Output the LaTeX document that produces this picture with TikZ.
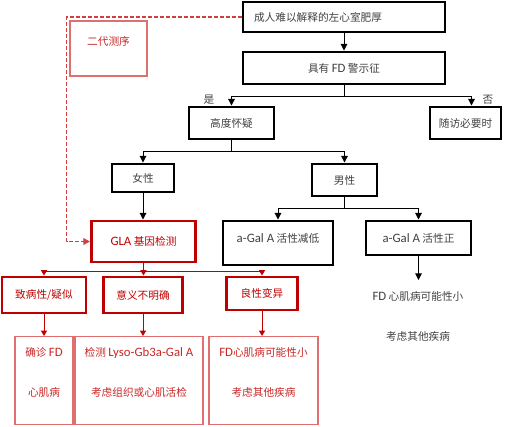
\documentclass[tikz,border=0pt]{standalone}
\usepackage{fontspec}
\setmainfont{Noto Sans CJK SC}
\newfontfamily\lat{Carlito}[Scale=1.2]
\usetikzlibrary{arrows.meta,positioning,calc}
\definecolor{fdred}{RGB}{192,0,0}
\definecolor{fdpink}{RGB}{224,112,112}
\definecolor{fdgray}{RGB}{64,64,64}

\begin{document}
\begin{tikzpicture}[x=0.75pt, y=-0.75pt,
  every node/.style={font=\fontsize{8}{10}\selectfont, text=fdgray},
  wh/.style 2 args={minimum width=#1*0.75pt, minimum height=#2*0.75pt},
  blk/.style={draw=black, line width=2.2pt, inner sep=0pt},
  redblk/.style={draw=fdred, line width=2.2pt, inner sep=0pt, text=fdred},
  thinbox/.style={draw=fdpink, line width=0.8pt, text=fdred!85},
  twoline/.style={align=center, text height=36pt, text depth=12pt, inner ysep=9pt, inner xsep=0pt},
  arr/.style={-{Triangle[length=5pt,width=5pt]}, line width=0.75pt},
  redarr/.style={-{Triangle[length=4pt,width=4.5pt]}, line width=0.75pt, draw=fdred},
  ngsline/.style={-{Triangle[length=5pt,width=5pt]}, line width=1pt, draw=fdred!75, dash pattern=on 3pt off 1.5pt}]
  \useasboundingbox (0,0) rectangle (516,427);

  %% Main chain
  \node[blk, wh={202}{30}, align=left, text width=135pt, inner xsep=8pt] (onset) at (344,17) {成人难以解释的左心室肥厚};
  \node[blk, wh={202}{32}] (warn) at (344,68) {具有 {\lat FD} 警示征};
  \node[blk, wh={85}{32}] (high) at (231.5,123) {高度怀疑};
  \node[blk, wh={71}{32}] (follow) at (465.5,123) {随访必要时};
  \node (yes) at (209,100) {是};
  \node (no) at (488,100) {否};

  %% Sex split
  \node[blk, wh={62}{28}] (female) at (143,178) {女性};
  \node[blk, wh={65}{32}] (male) at (344.5,180) {男性};

  %% Tests
  \node[redblk, wh={104}{41}] (gla) at (143.5,241.5) {{\lat GLA} 基因检测};
  \node[blk, wh={110}{44}, text height=6pt, text depth=7.5pt, inner ysep=9.75pt] (low) at (278,243) {{\lat a-Gal A} 活性减低};
  \node[blk, wh={105}{34}] (norm) at (418.5,238) {{\lat a-Gal A} 活性正};
  \node[thinbox, minimum width=57.75pt, inner xsep=0pt, text height=6pt, text depth=9.75pt, inner ysep=12.75pt, text=fdred!85] (ngs) at (108.5,48.5) {二代测序};

  %% Variant classes
  \node[redblk, wh={84}{36}] (path) at (44,295) {致病性/疑似};
  \node[redblk, wh={79}{36}] (unclear) at (143,295) {意义不明确};
  \node[redblk, wh={71}{33}] (benign) at (262,293.5) {良性变异};

  %% Conclusions
  \node[thinbox, twoline, anchor=north, minimum width=43.5pt] (sure) at (44,336) {确诊 {\lat FD}\\[20pt]心肌病};
  \node[thinbox, twoline, anchor=north, minimum width=96pt] (lyso) at (139,336) {检测 {\lat Lyso-Gb3a-Gal A}\\[20pt]考虑组织或心肌活检};
  \node[thinbox, twoline, anchor=north, minimum width=81.75pt] (other) at (263.5,336) {{\lat FD}心肌病可能性小\\[20pt]考虑其他疾病};
  \node[twoline, anchor=north] (advice) at (418,280) {{\lat FD} 心肌病可能性小\\[20pt]考虑其他疾病};

  %% Black connectors
  \draw[arr] (onset) -- (warn);
  \draw[arr] (warn.south) -- ++(0,11) -| (high.north);
  \draw[arr] (warn.south) -- ++(0,11) -| ([xshift=4.5pt]follow.north);
  \draw[arr] (high.south) -- ++(0,11) -| (female.north);
  \draw[arr] (high.south) -- ++(0,11) -| (male.north);
  \draw[arr] (female.south) -- (female.south |- gla.north);
  \draw[arr] (male.south) -- ++(0,11) -| (low.north);
  \draw[arr] (male.south) -- ++(0,11) -| (norm.north);
  \draw[arr] (norm.south) -- (norm.south |- advice.north);

  %% Red connectors
  \draw[ngsline] (onset.west) -- ++(-175,0) |- (gla.west);
  \draw[redarr] (gla.south) -- ++(0,8) -| (path.north);
  \draw[redarr] (gla.south) -- ++(0,8) -| (benign.north);
  \draw[redarr] (gla.south) -- (gla.south |- unclear.north);
  \draw[redarr] (path.south) -- (path.south |- sure.north);
  \draw[redarr] (unclear.south) -- (unclear.south |- lyso.north);
  \draw[redarr] (benign.south) -- (benign.south |- other.north);
\end{tikzpicture}
\end{document}
